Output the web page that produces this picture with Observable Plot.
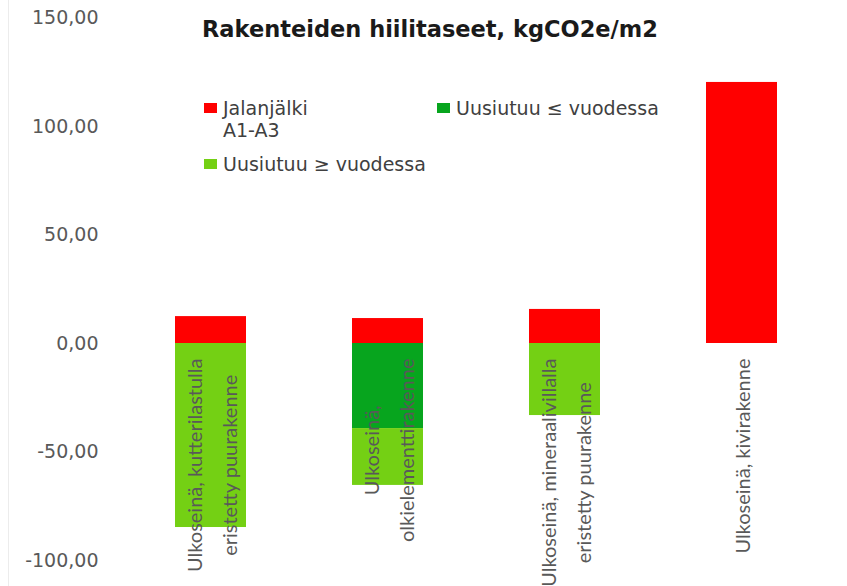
<!DOCTYPE html>
<html>
<head>
<meta charset="utf-8">
<script src="https://cdn.jsdelivr.net/npm/d3@7"></script>
<script src="https://cdn.jsdelivr.net/npm/@observablehq/plot@0.6"></script>
<style>
  html, body { margin: 0; padding: 0; background: #fff; }
  #wrap { position: relative; width: 847px; height: 586px; overflow: hidden; }
  #edge { position: absolute; left: 8px; top: 0; width: 1px; height: 586px; background: #ececec; }
  #title { position: absolute; left: 0; width: 860px; top: 16px; text-align: center;
           font: bold 22.5px "DejaVu Sans", sans-serif; color: #1a1a1a; }
  .lg { position: absolute; font: 19px "DejaVu Sans", sans-serif; color: #404040; line-height: 22px; }
  .sw { position: absolute; width: 13px; height: 10px; }
</style>
</head>
<body>
<div id="wrap">
  <div id="edge"></div>
  <div id="chart"></div>
  <div id="title">Rakenteiden hiilitaseet, kgCO2e/m2</div>
  <div id="legend"></div>
</div>
<script>
// ---- data ----
const categories = [
  "Ulkoseinä, kutterilastulla eristetty puurakenne",
  "Ulkoseinä, olkielementtirakenne",
  "Ulkoseinä, mineraalivillalla eristetty puurakenne",
  "Ulkoseinä, kivirakenne"
];
const categoryLabels = [
  "Ulkoseinä, kutterilastulla\neristetty puurakenne",
  "Ulkoseinä,\nolkielementtirakenne",
  "Ulkoseinä, mineraalivillalla\neristetty puurakenne",
  "Ulkoseinä, kivirakenne"
];
const seriesNames = ["Jalanjälki A1-A3", "Uusiutuu ≤ vuodessa", "Uusiutuu ≥ vuodessa"];
const seriesLegendText = ["Jalanjälki\nA1-A3", "Uusiutuu ≤ vuodessa", "Uusiutuu ≥ vuodessa"];
const seriesColors = ["#ff0000", "#07a51e", "#74d014"];
const jalanjalki = [12.4, 11.5, 15.7, 120.3];
const uusiutuuLe = [0, -39.2, 0, 0];
const uusiutuuGe = [-84.8, -26.2, -33.2, 0];
const yTicks = [-100, -50, 0, 50, 100, 150];

// ---- build table ----
const seriesValues = [jalanjalki, uusiutuuLe, uusiutuuGe];
const rows = [];
seriesNames.forEach((s, si) => {
  categories.forEach((c, ci) => {
    rows.push({category: c, series: s, value: seriesValues[si][ci]});
  });
});

// measure label lines to anchor the label block just below the zero line
const labelSize = 20;
const ctx = document.createElement("canvas").getContext("2d");
ctx.font = labelSize + "px Lato";
const labelGap = 15;

const labelMarks = categories.map((c, i) => {
  const lines = categoryLabels[i].split("\n");
  const maxW = d3.max(lines, l => ctx.measureText(l).width);
  return Plot.text([{category: c, label: categoryLabels[i]}], {
    x: "category", y: () => 0, text: "label",
    rotate: -90, textAnchor: "middle", lineAnchor: "middle",
    lineHeight: 1.75, dx: -3, dy: labelGap + maxW / 2,
    fontFamily: "Lato", fontSize: labelSize, fill: "#595959"
  });
});

const fmt = d => d.toFixed(2).replace(".", ",");

const chart = Plot.plot({
  width: 847,
  height: 586,
  marginTop: 17.5,
  marginBottom: 26,
  marginLeft: 121,
  marginRight: 17,
  style: {fontFamily: "DejaVu Sans", fontSize: "19px", color: "#595959", background: "transparent"},
  x: {domain: categories, paddingInner: 0.6, paddingOuter: 0.3, axis: null},
  y: {domain: [-100, 150], axis: null},
  color: {domain: seriesNames, range: seriesColors},
  marks: [
    Plot.barY(rows, {x: "category", y: "value", fill: "series", order: seriesNames}),
    Plot.axisY(yTicks, {tickSize: 0, tickPadding: 23, tickFormat: fmt, fontSize: 19, fontFamily: "DejaVu Sans", label: null}),
    ...labelMarks
  ]
});
document.getElementById("chart").appendChild(chart);

// ---- legend ----
const legendPos = [
  {left: 204, top: 97},
  {left: 437, top: 97},
  {left: 204, top: 153}
];
const legend = document.getElementById("legend");
seriesNames.forEach((s, i) => {
  const sw = document.createElement("div");
  sw.className = "sw";
  sw.style.left = legendPos[i].left + "px";
  sw.style.top = (legendPos[i].top + 6) + "px";
  sw.style.background = seriesColors[i];
  legend.appendChild(sw);
  const t = document.createElement("div");
  t.className = "lg";
  t.style.left = (legendPos[i].left + 19) + "px";
  t.style.top = legendPos[i].top + "px";
  t.innerHTML = seriesLegendText[i].split("\n").join("<br>");
  legend.appendChild(t);
});
</script>
</body>
</html>
